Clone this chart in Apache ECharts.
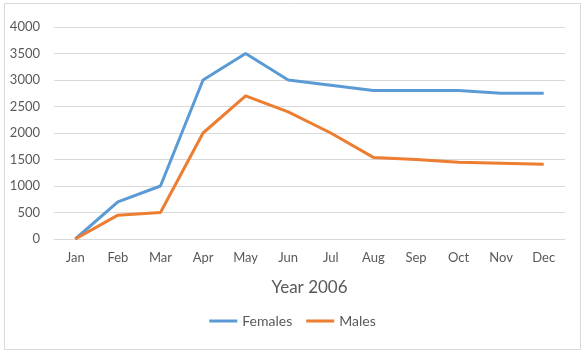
<!DOCTYPE html>
<html>
<head>
<meta charset="utf-8">
<script src="https://cdn.jsdelivr.net/npm/echarts@6/dist/echarts.min.js"></script>
<style>
html,body{margin:0;padding:0;background:#fff;}
#c{width:585px;height:356px;}
</style>
</head>
<body>
<div id="c"></div>
<script>
const categories = ['Jan','Feb','Mar','Apr','May','Jun','Jul','Aug','Sep','Oct','Nov','Dec'];
const females = [0, 700, 1000, 3000, 3500, 3000, 2900, 2800, 2800, 2800, 2750, 2750];
const males = [0, 450, 500, 2000, 2700, 2400, 2000, 1540, 1500, 1450, 1430, 1410];
const axisTitle = 'Year 2006';

const font = 'Lato, "Liberation Sans", sans-serif';
const chart = echarts.init(document.getElementById('c'), null, {renderer:'canvas'});
chart.setOption({
  backgroundColor: '#fff',
  animation: false,
  graphic: [{
    type: 'rect',
    shape: {x: 4.5, y: 3.5, width: 576, height: 346},
    style: {fill: 'none', stroke: '#d9d9d9', lineWidth: 1},
    silent: true
  }],
  grid: {left: 54, right: 20, top: 27, bottom: 117},
  legend: {
    bottom: 23,
    left: 'center',
    icon: 'rect',
    itemWidth: 28,
    itemHeight: 3,
    itemGap: 14,
    textStyle: {color: '#595959', fontSize: 14, fontFamily: font},
    data: ['Females', 'Males']
  },
  xAxis: {
    type: 'category',
    data: categories,
    boundaryGap: true,
    name: axisTitle,
    nameLocation: 'middle',
    nameGap: 40,
    nameTextStyle: {color: '#595959', fontSize: 17, fontFamily: font},
    axisLine: {show: true, lineStyle: {color: '#d9d9d9'}},
    axisTick: {show: false},
    axisLabel: {color: '#595959', fontSize: 13, fontFamily: font, margin: 12}
  },
  yAxis: {
    type: 'value',
    min: 0,
    max: 4000,
    interval: 500,
    axisLine: {show: false},
    axisTick: {show: false},
    axisLabel: {color: '#595959', fontSize: 13, fontFamily: font, margin: 14,
                formatter: function (v) { return String(v); }},
    splitLine: {lineStyle: {color: '#d9d9d9', width: 1}}
  },
  series: [
    {name: 'Females', type: 'line', data: females, symbol: 'none',
     lineStyle: {color: '#5B9BD5', width: 3}, itemStyle: {color: '#5B9BD5'}},
    {name: 'Males', type: 'line', data: males, symbol: 'none',
     lineStyle: {color: '#ED7D31', width: 3}, itemStyle: {color: '#ED7D31'}}
  ]
});
</script>
</body>
</html>
